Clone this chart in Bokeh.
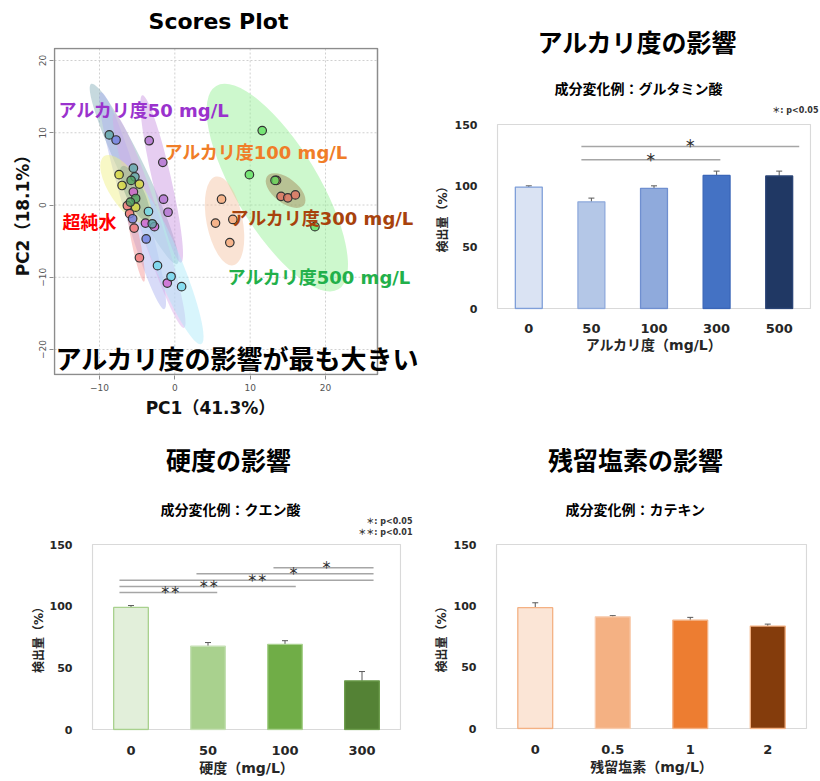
import math
from bokeh.plotting import figure
from bokeh.models import Range1d, FixedTicker, Whisker, TeeHead, ColumnDataSource
from bokeh.layouts import column, row
from bokeh.embed import file_html
from bokeh.resources import INLINE
from bokeh.core.properties import value

MIX = "DejaVu Sans, Noto Sans CJK JP"
JP = "Noto Sans CJK JP"
LAT = "DejaVu Sans"

# ---------------- data: PCA scores ----------------
grp_names = ["water", "alk50", "violet", "cyan", "yellow", "teal", "blue", "dgreen",
             "alk100", "alk300", "alk500"]
grp_x = {
    "water":  [-6.3, -6.0, -5.4, -4.7],
    "alk50":  [-3.4, -1.6, -1.5, -0.9],
    "violet": [-5.5, -3.9, -2.7, -1.0],
    "cyan":   [-3.5, -2.3, -0.5, 0.9],
    "yellow": [-7.4, -7.0, -4.7, -5.2],
    "teal":   [-8.7, -5.5, -5.3, -3.0],
    "blue":   [-7.8, -5.6, -3.8],
    "dgreen": [-5.8, -5.2, -5.9],
    "alk100": [6.2, 5.4, 7.7, 7.3],
    "alk300": [13.5, 14.1, 15.0, 16.0],
    "alk500": [11.6, 9.9, 13.3, 18.6],
}
grp_y = {
    "water":  [-0.1, -1.2, -3.2, -7.3],
    "alk50":  [8.9, 5.9, 0.8, -1.0],
    "violet": [1.8, -2.5, -3.0, -10.8],
    "cyan":   [-0.9, -8.4, -9.9, -11.3],
    "yellow": [4.2, 2.7, 2.9, -0.3],
    "teal":   [9.7, 5.1, 3.9, -2.6],
    "blue":   [9.0, -1.9, -4.7],
    "dgreen": [3.4, 0.9, 0.4],
    "alk100": [0.8, -2.5, -2.0, -5.2],
    "alk300": [3.4, 1.2, 1.0, 1.4],
    "alk500": [10.3, 4.2, 3.4, -3.0],
}
# confidence ellipses: centre x, centre y, major, minor, angle (deg)
ell_cx = {"water": -5.2, "alk50": -1.75, "violet": -3.4, "cyan": -0.85, "yellow": -6.5,
          "teal": -5.4, "blue": -5.6, "dgreen": -5.3, "alk100": 6.6, "alk300": 14.7, "alk500": 13.6}
ell_cy = {"water": -4.9, "alk50": 3.6, "violet": -2.2, "cyan": -8.2, "yellow": 2.2,
          "teal": 4.3, "blue": 0.6, "dgreen": 1.6, "alk100": -2.2, "alk300": 2.0, "alk500": 2.4}
ell_major = {"water": 11.2, "alk50": 22.8, "violet": 29.9, "cyan": 22.9, "yellow": 10.5,
             "teal": 26.5, "blue": 30.0, "dgreen": 8.0, "alk100": 12.0, "alk300": 6.2, "alk500": 31.5}
ell_minor = {"water": 1.2, "alk50": 2.6, "violet": 3.0, "cyan": 3.8, "yellow": 4.5,
             "teal": 3.5, "blue": 3.0, "dgreen": 2.5, "alk100": 5.0, "alk300": 3.4, "alk500": 11.5}
ell_angle = {"water": -78.7, "alk50": -77, "violet": -72, "cyan": -67.7, "yellow": -56.6,
             "teal": -64.5, "blue": -73.7, "dgreen": -65, "alk100": -79, "alk300": -38, "alk500": -59}

pt_color = {"water": "#F07878", "alk50": "#B070D0", "violet": "#D060D0", "cyan": "#70D8EC",
            "yellow": "#D8D840", "teal": "#5FA8A8", "blue": "#6F80E0", "dgreen": "#50A060",
            "alk100": "#F5A878", "alk300": "#E07060", "alk500": "#60E060"}
ell_color = {"water": "#F49090", "alk50": "#C890E0", "violet": "#D8A8E8", "cyan": "#A8E8F8",
             "yellow": "#F0F080", "teal": "#80ABB5", "blue": "#A8B0F0", "dgreen": "#88A888",
             "alk100": "#F5C0A0", "alk300": "#A08050", "alk500": "#90F090"}

pca_xticks = [-10, 0, 10, 20]
pca_yticks = [-20, -10, 0, 10, 20]
pca_labels = ["アルカリ度50 mg/L", "アルカリ度100 mg/L", "超純水", "アルカリ度300 mg/L", "アルカリ度500 mg/L"]
pca_label_colors = ["#9A32CD", "#F07D28", "#FF0000", "#A8420C", "#22B04A"]

# ---------------- data: bar charts ----------------
alk_cats = ["0", "50", "100", "300", "500"]
alk_vals = [99, 87, 98, 108.5, 108]
alk_err = [1, 3, 2, 3.5, 4]
alk_sig_x0 = [0.84, 0.84]
alk_sig_x1 = [3.06, 4.32]
alk_sig_y = [121.2, 132.1]
alk_sig_txt = ["＊", "＊"]

hard_cats = ["0", "50", "100", "300"]
hard_vals = [99, 67.5, 69, 39.5]
hard_err = [1.5, 3, 3, 7.5]
hard_sig_x0 = [-0.15, -0.15, -0.15, 0.85, 1.85]
hard_sig_x1 = [1.12, 2.14, 3.15, 3.15, 3.15]
hard_sig_y = [111.1, 115.9, 121.1, 126.2, 131.1]
hard_sig_lx = [0.51, 1.01, 1.64, 2.11, 2.54]
hard_sig_txt = ["＊＊", "＊＊", "＊＊", "＊", "＊"]

cl_cats = ["0", "0.5", "1", "2"]
cl_vals = [98.5, 91, 88.3, 83.5]
cl_err = [4, 1, 2.3, 1.6]

BAR_YTICKS = [0, 50, 100, 150]
BAR_YMAX = 150


# ---------------- helpers ----------------
class Map:
    """page pixel -> data value, for one panel"""
    def __init__(self, xp0, xv0, xppu, yp0, yv0, yppu):
        self.xp0, self.xv0, self.xppu = xp0, xv0, xppu
        self.yp0, self.yv0, self.yppu = yp0, yv0, yppu

    def x(self, px):
        return self.xv0 + (px - self.xp0) / self.xppu

    def y(self, py):
        return self.yv0 + (self.yp0 - py) / self.yppu


IDENT = Map(0, 0, 1, 0, 0, -1)   # header strips use page pixels directly


def make_fig(m, left, right, top, bottom, fl, fr, ft, fb):
    # page extent of the figure, and page extent of its frame
    p = figure(width=right - left, height=bottom - top,
               x_range=Range1d(m.x(fl), m.x(fr)), y_range=Range1d(m.y(fb), m.y(ft)),
               min_border_left=fl - left, min_border_right=right - fr,
               min_border_top=ft - top, min_border_bottom=bottom - fb, frame_align=False,
               toolbar_location=None, output_backend="svg")
    p.background_fill_color = "white"
    p.border_fill_color = "white"
    p.outline_line_color = None
    p.grid.visible = False
    return p


def make_header(left, right, top, bottom):
    p = figure(width=right - left, height=bottom - top,
               x_range=Range1d(left, right), y_range=Range1d(bottom, top),
               x_axis_location=None, y_axis_location=None,
               min_border_left=0, min_border_right=0, min_border_top=0, min_border_bottom=0,
               frame_align=False, toolbar_location=None, output_backend="svg")
    p.background_fill_color = "white"
    p.border_fill_color = "white"
    p.outline_line_color = None
    p.grid.visible = False
    return p


def txt(p, m, sx, sy, text, size, color="#000000", align="center", font=MIX, style="bold"):
    p.text(x=[m.x(sx)], y=[m.y(sy)], text=[text], text_font=value(font),
           text_font_size=f"{size}px", text_font_style=style, text_color=color,
           text_align=align, text_baseline="middle")


def style_bar(p, cats, xlabel):
    for ax in (p.xaxis, p.yaxis):
        ax.axis_line_color = None
        ax.major_tick_line_color = None
        ax.minor_tick_line_color = None
        ax.major_label_text_font = LAT
        ax.major_label_text_font_style = "bold"
        ax.major_label_text_color = "#262626"
        ax.axis_label_text_font = MIX
        ax.axis_label_text_font_style = "bold"
        ax.axis_label_text_color = "#262626"
    p.yaxis.ticker = FixedTicker(ticks=BAR_YTICKS)
    p.yaxis.major_label_text_font_size = "11px"
    p.yaxis.axis_label = "検出量（%）"
    p.yaxis.axis_label_text_font_size = "12px"
    p.xaxis.ticker = FixedTicker(ticks=list(range(len(cats))))
    p.xaxis.major_label_overrides = {i: c for i, c in enumerate(cats)}
    p.xaxis.major_label_text_font_size = "13px"
    p.xaxis.axis_label = xlabel
    p.xaxis.axis_label_text_font_size = "14px"
    # plot box
    p.quad(left=[-0.5], right=[len(cats) - 0.5], bottom=[0], top=[BAR_YMAX],
           fill_color=None, line_color="#D9D9D9", line_width=1.2)


def draw_bars(p, cats, vals, errs, fills, lines, width):
    xs = list(range(len(cats)))
    src = ColumnDataSource(dict(x=xs, top=vals,
                                lower=[v - e for v, e in zip(vals, errs)],
                                upper=[v + e for v, e in zip(vals, errs)],
                                fill=fills, line=lines))
    p.vbar(x="x", top="top", bottom=0, width=width, fill_color="fill",
           line_color="line", line_width=1.3, source=src)
    w = Whisker(source=src, base="x", lower="lower", upper="upper",
                line_color="#595959", line_width=1,
                upper_head=TeeHead(size=6, line_color="#595959", line_width=1),
                lower_head=TeeHead(size=6, line_color="#595959", line_width=1))
    p.add_layout(w)


def draw_sig(p, x0, x1, ys, lx, labels, ppu, size):
    p.segment(x0=x0, y0=ys, x1=x1, y1=ys, line_color="#A6A6A6", line_width=1.5)
    p.text(x=lx, y=[y + 3.0 / ppu for y in ys], text=labels,
           text_font=value(JP), text_font_size=f"{size}px", text_font_style="bold",
           text_color="#333333", text_align="center", text_baseline="middle")


# ---------------- panel 1: scores plot ----------------
h1 = make_header(0, 425, 0, 47)
txt(h1, IDENT, 218, 21, "Scores Plot", 22, font=LAT)

m1 = Map(174.33, 0.0, 7.5333, 204.5, 0.0, 7.225)
f1 = make_fig(m1, 0, 425, 47, 397, 53, 425, 47, 375)
BX0, BX1, BY0, BY1 = m1.x(54), m1.x(377), m1.y(374), m1.y(48)
f1.xaxis.ticker = FixedTicker(ticks=pca_xticks)
f1.yaxis.ticker = FixedTicker(ticks=pca_yticks)
for ax in (f1.xaxis, f1.yaxis):
    ax.axis_line_color = None
    ax.major_tick_line_color = "#8C8C8C"
    ax.major_tick_out = 4
    ax.major_tick_in = 0
    ax.minor_tick_line_color = None
    ax.major_label_text_font = LAT
    ax.major_label_text_font_size = "9px"
    ax.major_label_text_color = "#555555"
    ax.major_label_standoff = 4
    ax.axis_label_text_font = MIX
    ax.axis_label_text_font_style = "bold"
    ax.axis_label_text_font_size = "17px"
    ax.axis_label_text_color = "#111111"
f1.yaxis.major_label_orientation = "vertical"
f1.yaxis.axis_label = "PC2（18.1%）"
f1.yaxis.axis_label_standoff = 3

# dotted grid inside the box
f1.segment(x0=pca_xticks, y0=[BY0] * len(pca_xticks), x1=pca_xticks, y1=[BY1] * len(pca_xticks),
           line_color="#D0D0D0", line_dash="2 2", line_width=1)
f1.segment(x0=[BX0] * len(pca_yticks), y0=pca_yticks, x1=[BX1] * len(pca_yticks), y1=pca_yticks,
           line_color="#D0D0D0", line_dash="2 2", line_width=1)

order = ["alk500", "alk100", "alk300", "teal", "blue", "violet", "alk50", "cyan",
         "yellow", "dgreen", "water"]
for g in order:
    f1.ellipse(x=[ell_cx[g]], y=[ell_cy[g]], width=[ell_major[g]], height=[ell_minor[g]],
               angle=[math.radians(ell_angle[g])], fill_color=ell_color[g], fill_alpha=0.45,
               line_color=None)
for g in grp_names:
    f1.scatter(x=grp_x[g], y=grp_y[g], size=8.5, marker="circle", fill_color=pt_color[g],
               fill_alpha=0.8, line_color="#333333", line_width=1.2)
f1.quad(left=[BX0], right=[BX1], bottom=[BY0], top=[BY1], fill_color=None,
        line_color="#8C8C8C", line_width=1.5)

pca_lab_pos = [(58, 110), (164, 152), (62, 222), (230, 218), (227, 277)]
for t, c, (sx, sy) in zip(pca_labels, pca_label_colors, pca_lab_pos):
    txt(f1, m1, sx, sy, t, 18, color=c, align="left")
txt(f1, m1, 55, 357, "アルカリ度の影響が最も大きい", 26, align="left", font=JP)

ft1 = make_header(0, 425, 397, 430)
txt(ft1, IDENT, 210, 407, "PC1（41.3%）", 17, color="#111111")

# ---------------- panel 2: alkalinity ----------------
h2 = make_header(425, 819, 0, 116)
txt(h2, IDENT, 637, 40, "アルカリ度の影響", 25, font=JP)
txt(h2, IDENT, 638, 87, "成分変化例：グルタミン酸", 14, font=JP)
txt(h2, IDENT, 818, 110, "＊: p<0.05", 8, align="right", color="#333333")

m2 = Map(497, -0.5, 62.6, 308, 0.0, 184 / 150)
f2 = make_fig(m2, 425, 819, 116, 430, 496, 811, 123, 309)
style_bar(f2, alk_cats, "アルカリ度（mg/L）")
f2.yaxis.major_label_standoff = 13
f2.yaxis.axis_label_standoff = 2
f2.xaxis.major_label_standoff = 8
f2.xaxis.axis_label_standoff = 1
draw_bars(f2, alk_cats, alk_vals, alk_err,
          ["#DAE3F3", "#B4C7E7", "#8FAADC", "#4472C4", "#203864"],
          ["#7F9FD9", "#8FAADC", "#6F8FD0", "#3A66B8", "#2A4476"], 0.43)
draw_sig(f2, alk_sig_x0, alk_sig_x1, alk_sig_y,
         [(a + b) / 2 for a, b in zip(alk_sig_x0, alk_sig_x1)], alk_sig_txt, 184 / 150, 11)

# ---------------- panel 3: hardness ----------------
h3 = make_header(0, 425, 430, 537)
txt(h3, IDENT, 228, 458, "硬度の影響", 25, font=JP)
txt(h3, IDENT, 230, 508, "成分変化例：クエン酸", 14, font=JP)
txt(h3, IDENT, 412, 521, "＊: p<0.05", 8, align="right", color="#333333")
txt(h3, IDENT, 412, 532, "＊＊: p<0.01", 8, align="right", color="#333333")

m3 = Map(92, -0.5, 77.0, 729, 0.0, 185 / 150)
f3 = make_fig(m3, 0, 425, 537, 780, 91, 401, 543, 730)
style_bar(f3, hard_cats, "硬度（mg/L）")
f3.yaxis.major_label_standoff = 13
f3.yaxis.axis_label_standoff = 1
f3.xaxis.major_label_standoff = 9
f3.xaxis.axis_label_standoff = 2
draw_bars(f3, hard_cats, hard_vals, hard_err,
          ["#E2EFDA", "#A9D18E", "#70AD47", "#548235"],
          ["#A9D18E", "#C5E0B4", "#A9D18E", "#6E9E4E"], 0.45)
draw_sig(f3, hard_sig_x0, hard_sig_x1, hard_sig_y, hard_sig_lx, hard_sig_txt, 185 / 150, 10)

# ---------------- panel 4: residual chlorine ----------------
h4 = make_header(425, 819, 430, 537)
txt(h4, IDENT, 635, 458, "残留塩素の影響", 25, font=JP)
txt(h4, IDENT, 635, 508, "成分変化例：カテキン", 14, font=JP)

m4 = Map(496, -0.5, 77.5, 728, 0.0, 184 / 150)
f4 = make_fig(m4, 425, 819, 537, 780, 495, 807, 543, 729)
style_bar(f4, cl_cats, "残留塩素（mg/L）")
f4.yaxis.major_label_standoff = 13
f4.yaxis.axis_label_standoff = 2
f4.xaxis.major_label_standoff = 9
f4.xaxis.axis_label_standoff = 2
draw_bars(f4, cl_cats, cl_vals, cl_err,
          ["#FBE5D6", "#F4B183", "#ED7D31", "#843C0C"],
          ["#F4B183", "#F8CBAD", "#F4B183", "#F4B183"], 0.45)

layout = row(column(h1, f1, ft1, h3, f3), column(h2, f2, h4, f4))
open("out.html", "w").write(file_html(layout, INLINE))
